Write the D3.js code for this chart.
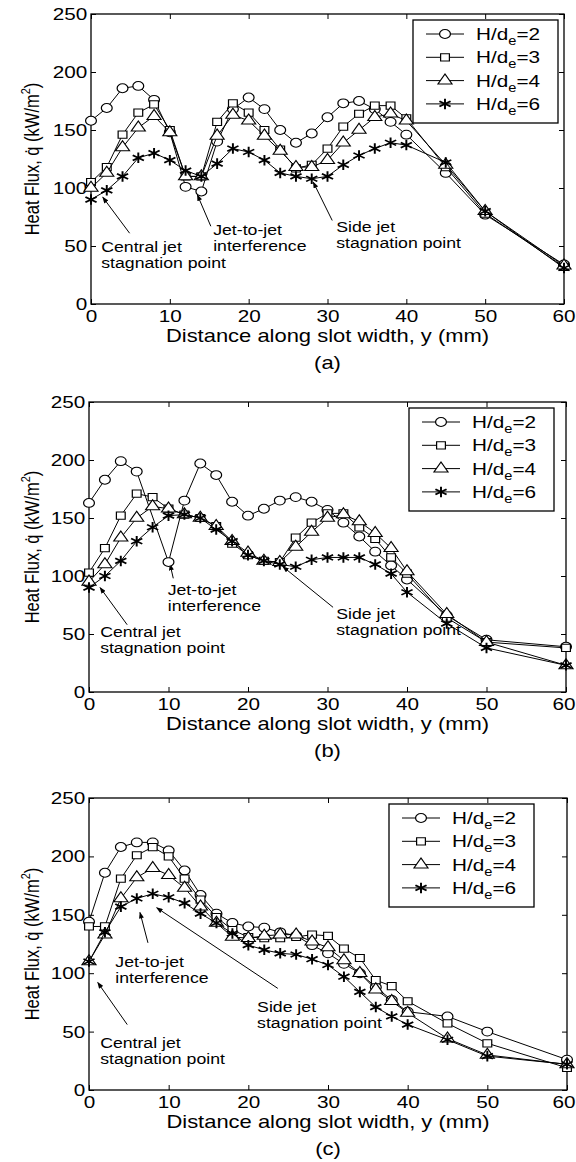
<!DOCTYPE html>
<html lang="en">
<head>
<meta charset="UTF-8">
<title>Heat flux along slot width</title>
<style>
  body { margin: 0; background: #fff; }
  svg text { font-family: "Liberation Sans", Arial, sans-serif; fill: #000; }
</style>
</head>
<body>
<script src="https://cdn.jsdelivr.net/npm/d3@7"></script>
<script>
// distance along slot width, y (mm)
const xs = [0, 2, 4, 6, 8, 10, 12, 14, 16, 18, 20, 22, 24, 26, 28, 30, 32, 34, 36, 38, 40, 45, 50, 60];
const ratios = ["2", "3", "4", "6"];
const xTicks = [0, 10, 20, 30, 40, 50, 60];
const yTicks = [0, 50, 100, 150, 200, 250];

// panel (a) heat flux, kW/m2
const a2 = [158, 169, 186, 188, 176, 148, 101, 97, 140, 168, 178, 168, 150, 139, 147, 161, 173, 175, 168, 157, 146, 113, 77, 34];
const a3 = [105, 118, 146, 165, 172, 150, 110, 110, 157, 173, 165, 150, 133, 117, 120, 134, 153, 164, 171, 171, 160, 118, 78, 32];
const a4 = [100, 113, 135, 152, 162, 148, 110, 110, 145, 163, 158, 145, 132, 118, 118, 124, 139, 150, 161, 164, 158, 120, 80, 33];
const a6 = [90, 98, 110, 126, 130, 124, 115, 110, 121, 134, 131, 124, 113, 110, 108, 110, 120, 128, 134, 139, 137, 122, 80, 31];

// panel (b)
const b2 = [163, 183, 199, 190, null, 112, 165, 197, 187, 164, 152, 158, 165, 168, 164, 157, 146, 134, 121, 109, 97, 66, 45, 39];
const b3 = [103, 124, 152, 171, 168, 158, 153, 150, 143, 128, 118, 113, 112, 133, 146, 154, 154, 142, 132, 116, 102, 64, 43, 38];
const b4 = [95, 110, 133, 150, 160, 158, 153, 150, 143, 130, 120, 113, 112, 125, 138, 150, 153, 147, 137, 124, 104, 67, 43, 23];
const b6 = [90, 100, 113, 130, 142, 152, 153, 150, 140, 130, 118, 113, 110, 108, 114, 116, 116, 116, 110, 102, 86, 59, 38, 23];

// panel (c)
const c2 = [144, 186, 208, 212, 212, 205, 188, 167, 151, 143, 140, 139, 135, 132, 124, 117, 108, 100, 88, 77, 67, 63, 50, 26];
const c3 = [140, 140, 181, 201, 208, 200, 181, 163, 148, 137, 131, 130, 130, 131, 133, 132, 121, 113, 94, 89, 76, 57, 40, 19];
const c4 = [110, 133, 164, 182, 190, 184, 173, 157, 143, 131, 130, 132, 133, 133, 127, 122, 111, 100, 86, 76, 66, 44, 30, 22];
const c6 = [110, 135, 157, 164, 168, 165, 160, 151, 143, 134, 124, 120, 117, 116, 112, 107, 97, 84, 71, 63, 56, 43, 29, 22];

// callouts: label position and pointer ends in data units
const notesA = [
    {lines: ["Central jet", "stagnation point"], at: [1.3, 49], from: [4.9, 61], to: [1.5, 92]},
    {lines: ["Jet-to-jet", "interference"], at: [15.5, 64], from: [15.2, 67], to: [13.5, 94]},
    {lines: ["Side jet", "stagnation point"], at: [31.1, 66], from: [30.6, 72], to: [28.2, 105]}
];
const notesB = [
    {lines: ["Central jet", "stagnation point"], at: [1.4, 52], from: [4.8, 58], to: [1.4, 90]},
    {lines: ["Jet-to-jet", "interference"], at: [9.9, 88], from: [10.6, 98], to: [10.2, 110]},
    {lines: ["Side jet", "stagnation point"], at: [31.1, 67], from: [30.7, 73], to: [24.4, 108]}
];
const notesC = [
    {lines: ["Central jet", "stagnation point"], at: [1.4, 40], from: [4.8, 56], to: [1.1, 92]},
    {lines: ["Jet-to-jet", "interference"], at: [3.3, 110], from: [7.4, 126], to: [6.4, 152]},
    {lines: ["Side jet", "stagnation point"], at: [21.1, 71], from: [23.7, 87], to: [8.5, 156]}
];

// the printed figure is stretched sideways, so is its lettering
const SX = 1.22;
const width = 576, height = 1162;

let svg = d3.select("body").append("svg")
    .attr("width", width)
    .attr("height", height);

svg.append("defs").append("marker")
    .attr("id", "tip")
    .attr("viewBox", "0 0 8 6")
    .attr("refX", 7).attr("refY", 3)
    .attr("markerWidth", 7).attr("markerHeight", 5)
    .attr("markerUnits", "userSpaceOnUse")
    .attr("orient", "auto")
    .append("path")
    .attr("d", "M0,0L8,3L0,6Z")
    .attr("fill", "#000");

const shapes = [d3.symbolCircle, d3.symbolSquare, d3.symbolTriangle, d3.symbolAsterisk];
const sizes = [62, 52, 58, 78];

function marker(sel, i) {
    sel.attr("d", d3.symbol(shapes[i], sizes[i]))
        .attr("fill", i === 3 ? "none" : "#fff")
        .attr("stroke", "#000")
        .attr("stroke-width", i === 3 ? 1.6 : 1);
}

function drawPanel(p) {
    let x = d3.scaleLinear().domain([0, 60]).range([p.left, p.right]);
    let y = d3.scaleLinear().domain([0, 250]).range([p.bottom, p.top]);
    let g = svg.append("g");

    // axes with inward ticks on all four sides
    let bottom = g.append("g").attr("transform", `translate(0,${p.bottom})`)
        .call(d3.axisBottom(x).tickValues(xTicks).tickSizeInner(-5).tickSizeOuter(0).tickPadding(6));
    let left = g.append("g").attr("transform", `translate(${p.left},0)`)
        .call(d3.axisLeft(y).tickValues(yTicks).tickSizeInner(-5).tickSizeOuter(0).tickPadding(3));
    g.append("g").attr("transform", `translate(0,${p.top})`)
        .call(d3.axisTop(x).tickValues(xTicks).tickSizeInner(-5).tickSizeOuter(0).tickFormat(""));
    g.append("g").attr("transform", `translate(${p.right},0)`)
        .call(d3.axisRight(y).tickValues(yTicks).tickSizeInner(-5).tickSizeOuter(0).tickFormat(""));
    g.selectAll(".domain").remove();
    g.selectAll(".tick line").attr("stroke", "#000");
    [bottom, left].forEach(a => a.selectAll("text")
        .attr("font-family", "Liberation Sans, Arial, sans-serif")
        .attr("font-size", 17)
        .attr("fill", "#000")
        .attr("transform", `scale(${SX},1)`));
    // keep the last x label inside the page edge
    bottom.selectAll(".tick text").filter(d => d === 60)
        .attr("text-anchor", "end")
        .attr("x", Math.min(9.5, (width - 1 - p.right) / SX));

    g.append("rect")
        .attr("x", p.left).attr("y", p.top)
        .attr("width", p.right - p.left).attr("height", p.bottom - p.top)
        .attr("fill", "none").attr("stroke", "#000").attr("stroke-width", 1.3);

    // callouts
    p.notes.forEach(n => {
        g.append("line")
            .attr("x1", x(n.from[0])).attr("y1", y(n.from[1]))
            .attr("x2", x(n.to[0])).attr("y2", y(n.to[1]))
            .attr("stroke", "#000").attr("stroke-width", 1)
            .attr("marker-end", "url(#tip)");
        let t = g.append("text")
            .attr("transform", `translate(${x(n.at[0])},${y(n.at[1]) + 5}) scale(${SX},1)`)
            .attr("font-size", 14.5);
        n.lines.forEach((s, k) => t.append("tspan").attr("x", 0).attr("y", k * 16).text(s));
    });

    // series: line first, then its open markers on top
    let line = d3.line().x(d => x(d[0])).y(d => y(d[1]));
    p.series.forEach((vals, i) => {
        let pts = xs.map((xv, j) => [xv, vals[j]]).filter(d => d[1] != null);
        g.append("path").datum(pts)
            .attr("d", line)
            .attr("fill", "none")
            .attr("stroke", "#000")
            .attr("stroke-width", 1);
        g.append("g").selectAll("path")
            .data(pts)
            .enter()
            .append("path")
            .attr("transform", d => `translate(${x(d[0])},${y(d[1])}) scale(${SX},1)`)
            .call(marker, i);
    });

    // legend
    let lw = 145, lh = 103;
    let lg = g.append("g").attr("transform", `translate(${p.right - p.legGap - lw},${p.top + 6})`);
    lg.append("rect").attr("width", lw).attr("height", lh)
        .attr("fill", "#fff").attr("stroke", "#000").attr("stroke-width", 1.3);
    ratios.forEach((r, i) => {
        let ry = 14 + i * 23.3;
        lg.append("line").attr("x1", 13).attr("x2", 51).attr("y1", ry).attr("y2", ry)
            .attr("stroke", "#000").attr("stroke-width", 1);
        lg.append("path").attr("transform", `translate(32,${ry}) scale(${SX},1)`).call(marker, i);
        let t = lg.append("text").attr("transform", `translate(63,${ry + 6}) scale(${SX},1)`)
            .attr("font-size", 17);
        t.append("tspan").text("H/d");
        t.append("tspan").attr("font-size", 12).attr("dy", 5).text("e");
        t.append("tspan").attr("dy", -5).text("=" + r);
    });

    // axis titles and caption
    let cx = (p.left + p.right) / 2;
    g.append("text")
        .attr("transform", `translate(${cx},${p.bottom + 38}) scale(${SX},1)`)
        .attr("text-anchor", "middle").attr("font-size", 18)
        .text("Distance along slot width, y (mm)");
    let yl = g.append("text")
        .attr("transform", `translate(39,${(p.top + p.bottom) / 2}) scale(${SX},1) rotate(-90)`)
        .attr("text-anchor", "middle").attr("font-size", 16.5);
    yl.append("tspan").text("Heat Flux, q\u0307 (kW/m");
    yl.append("tspan").attr("font-size", 11).attr("dy", -7).text("2");
    yl.append("tspan").attr("dy", 7).text(")");
    g.append("text")
        .attr("transform", `translate(${cx},${p.bottom + 65}) scale(${SX},1)`)
        .attr("text-anchor", "middle")
        .attr("font-family", "Liberation Serif, Times New Roman, serif")
        .attr("font-size", 18)
        .text(p.caption);
}

drawPanel({left: 91, right: 564, top: 14, bottom: 304, legGap: 6,
    series: [a2, a3, a4, a6], notes: notesA, caption: "(a)"});
drawPanel({left: 89, right: 566, top: 402, bottom: 692, legGap: 12,
    series: [b2, b3, b4, b6], notes: notesB, caption: "(b)"});
drawPanel({left: 89, right: 567, top: 798, bottom: 1090, legGap: 33,
    series: [c2, c3, c4, c6], notes: notesC, caption: "(c)"});
</script>
</body>
</html>
